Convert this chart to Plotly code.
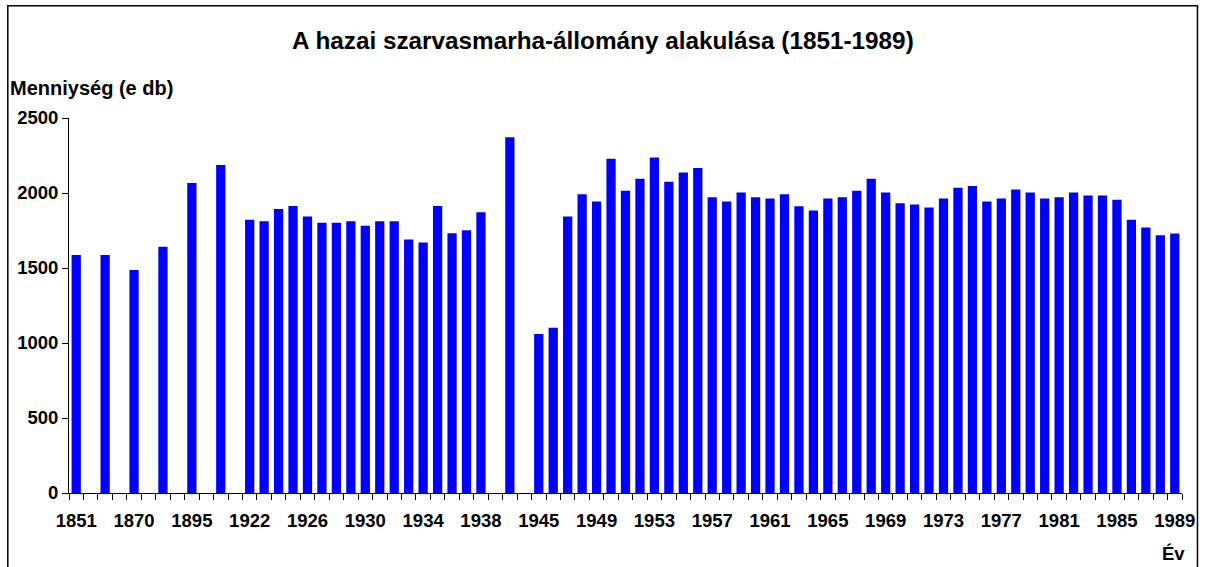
import plotly.graph_objects as go

# Category slots (blank slots are empty gaps in the original chart)
years = ["1851", "", "1857", "", "1870", "", "1884", "", "1895", "", "1911", "",
         "1922", "1923", "1924", "1925", "1926", "1927", "1928", "1929", "1930",
         "1931", "1932", "1933", "1934", "1935", "1936", "1937", "1938", "",
         "1942", "", "1945", "1946", "1947", "1948", "1949", "1950", "1951",
         "1952", "1953", "1954", "1955", "1956", "1957", "1958", "1959", "1960",
         "1961", "1962", "1963", "1964", "1965", "1966", "1967", "1968", "1969",
         "1970", "1971", "1972", "1973", "1974", "1975", "1976", "1977", "1978",
         "1979", "1980", "1981", "1982", "1983", "1984", "1985", "1986", "1987",
         "1988", "1989"]

cattle = [1587, None, 1587, None, 1487, None, 1641, None, 2066, None, 2186, None,
          1821, 1812, 1894, 1914, 1843, 1801, 1801, 1812, 1781,
          1812, 1812, 1690, 1670, 1914, 1732, 1752, 1872, None,
          2371, None, 1060, 1102, 1843, 1992, 1943, 2228, 2015,
          2095, 2237, 2075, 2137, 2166, 1972, 1943, 2004, 1972,
          1963, 1992, 1912, 1883, 1963, 1972, 2015, 2095, 2004,
          1932, 1923, 1903, 1963, 2035, 2046, 1943, 1963, 2024,
          2004, 1963, 1972, 2004, 1984, 1984, 1955, 1821, 1770,
          1719, 1730]

label_step = 4
title_text = "A hazai szarvasmarha-állomány alakulása (1851-1989)"
y_title = "Menniység (e db)"
x_title = "Év"

W, H = 1207, 567
ML, MR, MT, MB = 69, 23, 118, 74
pw = W - ML - MR
ph = H - MT - MB

def px_x(p):
    return (p - ML) / pw

def px_y(p):
    return (H - MB - p) / ph

FONT = "Liberation Sans, Arial, sans-serif"
TICK_SIZE = 18.5

idx = list(range(len(years)))

fig = go.Figure()
fig.add_trace(go.Bar(
    x=idx, y=cattle,
    marker=dict(color="#0000FF", line=dict(width=0)),
    width=0.64,
    hoverinfo="y",
))

fig.update_layout(
    width=W, height=H,
    margin=dict(l=ML, r=MR, t=MT, b=MB),
    paper_bgcolor="white", plot_bgcolor="white",
    showlegend=False,
    font=dict(family=FONT, size=TICK_SIZE, color="black"),
)

fig.update_xaxes(
    range=[-0.5, len(years) - 0.5],
    tickmode="array",
    tickvals=idx[::label_step],
    ticktext=years[::label_step],
    ticks="outside", ticklen=11, tickcolor="rgba(0,0,0,0)",
    tickfont=dict(family=FONT, size=TICK_SIZE, color="black", weight="bold"),
    showline=True, linecolor="black", linewidth=1,
    showgrid=False, zeroline=False,
    minor=dict(ticks="outside", ticklen=6, tickcolor="black", tickwidth=1,
               tickmode="array",
               tickvals=[i - 0.5 for i in range(len(years) + 1)],
               showgrid=False),
)

fig.update_yaxes(
    range=[0, 2500], dtick=500, tick0=0,
    ticks="outside", ticklen=6, tickcolor="black", tickwidth=1,
    tickfont=dict(family=FONT, size=TICK_SIZE, color="black", weight="bold"),
    showline=True, linecolor="black", linewidth=1,
    showgrid=False, zeroline=False,
)

fig.add_annotation(
    text=title_text, xref="paper", yref="paper",
    x=px_x(604), y=px_y(40), xanchor="center", yanchor="middle",
    showarrow=False,
    font=dict(family=FONT, size=24.3, color="black", weight="bold"),
)
fig.add_annotation(
    text=y_title, xref="paper", yref="paper",
    x=px_x(8), y=px_y(88), xanchor="left", yanchor="middle",
    showarrow=False,
    font=dict(family=FONT, size=20, color="black", weight="bold"),
)
fig.add_annotation(
    text=x_title, xref="paper", yref="paper",
    x=px_x(1189), y=px_y(553), xanchor="right", yanchor="middle",
    showarrow=False,
    font=dict(family=FONT, size=18.5, color="black", weight="bold"),
)

# chart-area frame
fig.add_shape(
    type="rect", xref="paper", yref="paper",
    x0=px_x(7.7), x1=px_x(1199.5), y0=px_y(640), y1=px_y(5.7),
    line=dict(color="black", width=1.5), fillcolor="rgba(0,0,0,0)", layer="above",
)

fig.write_html(
    "out.html",
    config={"displayModeBar": False},
    post_script="document.body.style.margin='0';document.body.style.overflow='hidden';",
)
